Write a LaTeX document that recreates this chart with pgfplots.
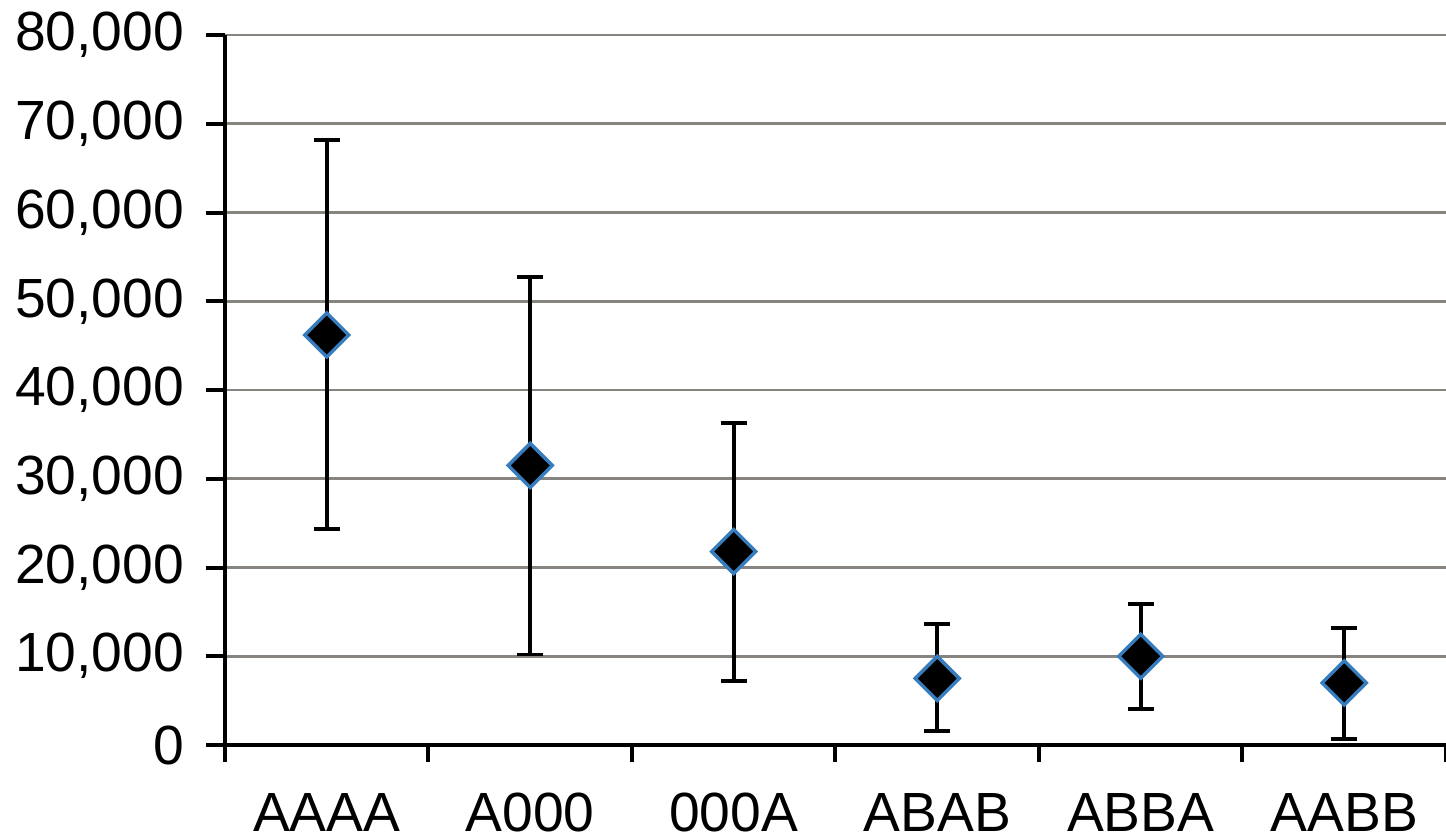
\documentclass[border=0pt]{standalone}
\usepackage{pgfplots}
\pgfplotsset{compat=1.18}
\usepackage{fontspec}
\setmainfont{Liberation Sans}
\definecolor{gridgray}{RGB}{135,132,128}
\definecolor{edgeblue}{RGB}{55,125,190}
\begin{document}
\begin{tikzpicture}
\begin{axis}[
  scale only axis,
  width=610.5pt, height=355pt,
  xmin=-0.5, xmax=5.5,
  ymin=0, ymax=80000,
  axis x line*=bottom, axis y line*=left,
  axis line style={line width=2pt, -},
  xtick={0,...,5},
  xticklabels={AAAA,A000,000A,ABAB,ABBA,AABB},
  minor xtick={-0.5,0.5,...,5.5},
  major x tick style={draw=none},
  minor x tick style={line width=2pt, black},
  minor tick length=8.5pt,
  ytick={0,10000,...,80000},
  major y tick style={line width=2pt, black},
  major tick length=9.5pt,
  tick align=outside,
  ymajorgrids,
  major grid style={color=gridgray, line width=1.3pt},
  scaled y ticks=false,
  /pgf/number format/.cd, 1000 sep={,}, assume math mode=true,
  /pgfplots/.cd,
  yticklabel style={font=\fontsize{27.6}{30}\selectfont, xshift=-7.5pt},
  xticklabel style={font=\fontsize{27.6}{30}\selectfont, yshift=-11pt},
  clip=false,
]
\addplot[
  only marks,
  mark=square*,
  mark size=7.8pt,
  mark options={rotate=45, fill=black, draw=edgeblue, line width=1.7pt},
  error bars/.cd,
    y dir=both, y explicit,
    error bar style={line width=1.9pt, black},
    error mark options={line width=1.9pt, black, mark size=6.5pt, rotate=90},
] table[x=x, y=y, y error plus=ep, y error minus=em] {
x y ep em
0 46200 22000 21900
1 31500 21200 21300
2 21800 14500 14600
3 7500 6100 5900
4 10000 5900 5900
5 7000 6200 6300
};
\end{axis}
\pgfresetboundingbox
\path (-112.5pt,-46pt) rectangle (610.5pt,372.5pt);
\end{tikzpicture}
\end{document}
